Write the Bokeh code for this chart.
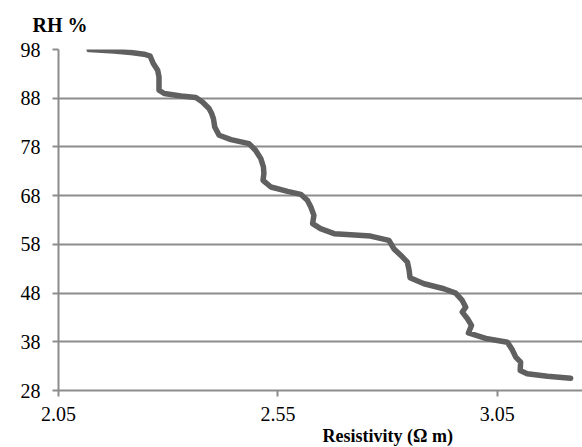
from bokeh.plotting import figure
from bokeh.models import FixedTicker, Range1d, Title
from bokeh.embed import file_html
from bokeh.resources import INLINE

# Data
resistivity = [2.120, 2.177, 2.215, 2.245, 2.259, 2.266, 2.276, 2.279, 2.279, 2.279,
               2.291, 2.329, 2.363, 2.378, 2.393, 2.399, 2.403, 2.406, 2.416, 2.443,
               2.484, 2.499, 2.511, 2.517, 2.518, 2.516, 2.534, 2.572, 2.602, 2.617,
               2.625, 2.632, 2.629, 2.647, 2.678, 2.716, 2.761, 2.803, 2.814, 2.834,
               2.845, 2.849, 2.851, 2.883, 2.928, 2.955, 2.970, 2.978, 2.970, 2.982,
               2.991, 2.984, 3.027, 3.073, 3.084, 3.092, 3.103, 3.102, 3.118, 3.164,
               3.217]
rh = [98.00, 97.71, 97.38, 97.03, 96.62, 95.12, 93.75, 92.37, 91.01, 89.64,
      88.96, 88.47, 88.14, 87.23, 85.88, 84.85, 83.82, 82.10, 80.39, 79.51,
      78.69, 77.31, 75.60, 73.88, 72.52, 71.15, 69.77, 68.89, 68.27, 67.04,
      65.66, 63.95, 62.25, 61.22, 60.19, 59.95, 59.70, 58.82, 57.11, 55.39,
      54.36, 52.65, 51.15, 49.92, 48.89, 47.99, 46.49, 45.11, 44.09, 42.73,
      41.35, 39.81, 38.62, 37.92, 36.35, 34.84, 33.81, 32.11, 31.43, 30.94,
      30.52]
x_ticks = [2.05, 2.55, 3.05]
y_ticks = [28, 38, 48, 58, 68, 78, 88, 98]
y_title = "RH %"
x_title = "Resistivity (Ω m)"

FONT = "'Liberation Serif', 'Times New Roman', serif"
GRID = "#8c8c8c"

p = figure(width=582, height=447, output_backend="svg", toolbar_location=None,
           x_range=Range1d(2.05, 3.244), y_range=Range1d(28, 98),
           min_border_left=58, min_border_right=0, min_border_top=49,
           min_border_bottom=57)
p.outline_line_color = None
p.background_fill_color = "white"
p.border_fill_color = "white"

p.line(resistivity, rh, line_color="#606060", line_width=5.5, line_join="round",
       line_cap="round")

p.xgrid.grid_line_color = None
p.ygrid.grid_line_color = GRID
p.ygrid.grid_line_width = 2

for ax in (p.xaxis[0], p.yaxis[0]):
    ax.axis_line_color = GRID
    ax.axis_line_width = 2
    ax.major_tick_line_color = GRID
    ax.major_tick_line_width = 2
    ax.major_tick_in = 0
    ax.major_tick_out = 6
    ax.minor_tick_line_color = None
    ax.major_label_text_font = FONT
    ax.major_label_text_font_size = "20px"
    ax.major_label_text_color = "black"

p.xaxis.ticker = FixedTicker(ticks=x_ticks)
p.yaxis.ticker = FixedTicker(ticks=y_ticks)
p.xaxis.major_label_standoff = 10
p.yaxis.major_label_standoff = 12

p.title.text = y_title
p.title.text_font = FONT
p.title.text_font_size = "20px"
p.title.text_font_style = "bold"
p.title.text_color = "black"
p.title.align = "left"
p.title.offset = -26
p.title.vertical_align = "top"
p.title.standoff = 24

xt = Title(text=x_title, text_font=FONT, text_font_size="18px",
           text_font_style="bold", text_color="black", align="left",
           offset=264, standoff=1)
p.add_layout(xt, "below")

open("out.html", "w").write(file_html(p, INLINE))
